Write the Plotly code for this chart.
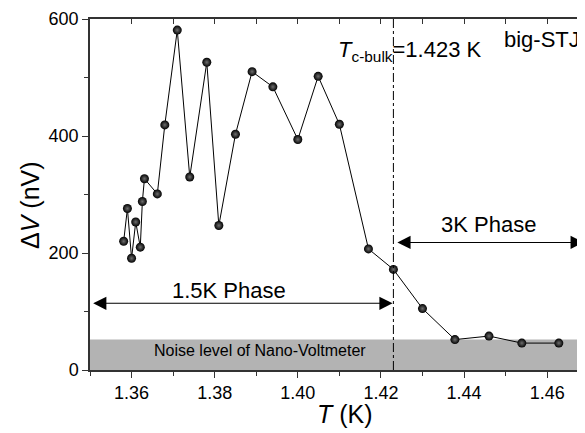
import plotly.graph_objects as go

# Data
T_K = [1.3581, 1.3590, 1.3600, 1.3610, 1.3621, 1.3626, 1.3631, 1.3662, 1.3680,
       1.3710, 1.3740, 1.3781, 1.3810, 1.3850, 1.3890, 1.3940, 1.4000, 1.4049,
       1.4100, 1.4170, 1.4230, 1.4300, 1.4378, 1.4460, 1.4539, 1.4628]
dV_nV = [220, 276, 191, 253, 210, 288, 327, 301, 419,
         581, 330, 526, 247, 403, 510, 484, 394, 502,
         420, 207, 172, 105, 52, 58, 46, 46]

TC_BULK = 1.423
NOISE_LEVEL = 52
X_RANGE = [1.35, 1.4691]
Y_RANGE = [0, 600]
X_TICKS = [1.36, 1.38, 1.40, 1.42, 1.44, 1.46]
X_TICK_LABELS = ["1.36", "1.38", "1.40", "1.42", "1.44", "1.46"]
Y_TICKS = [0, 200, 400, 600]

FONT = "Liberation Sans, Arial, sans-serif"
AX = "#333333"

fig = go.Figure()

fig.add_trace(go.Scatter(
    x=T_K, y=dV_nV, mode="lines+markers",
    line=dict(color="black", width=1),
    marker=dict(size=9, color="black",
                gradient=dict(type="radial", color="#6e6e6e")),
    showlegend=False, hoverinfo="x+y"))

# helper trace for mirrored axes (invisible)
fig.add_trace(go.Scatter(
    x=T_K, y=dV_nV, xaxis="x2", yaxis="y2", mode="markers",
    marker=dict(opacity=0), showlegend=False, hoverinfo="skip"))

# noise band
fig.add_shape(type="rect", xref="paper", yref="y", x0=0, x1=1, y0=0, y1=NOISE_LEVEL,
              fillcolor="#b3b3b3", line=dict(width=0), layer="below")
# Tc line
fig.add_shape(type="line", xref="x", yref="paper", x0=TC_BULK, x1=TC_BULK, y0=0, y1=1,
              line=dict(color="black", width=1, dash="dashdot"))

# arrows
arrow_style = dict(xref="x", yref="y", axref="x", ayref="y", text="",
                   showarrow=True, arrowhead=2, arrowside="end+start",
                   arrowsize=2.4, arrowwidth=1.1, arrowcolor="black")
fig.add_annotation(x=TC_BULK - 0.0002, y=114, ax=X_RANGE[0] + 0.0004, ay=114, **arrow_style)
fig.add_annotation(x=1.4688, y=218, ax=TC_BULK + 0.0006, ay=218, **arrow_style)

txt = dict(family=FONT, size=22, color="black")
fig.add_annotation(x=1.3834, y=136, text="1.5K Phase", showarrow=False, font=txt)
fig.add_annotation(x=1.446, y=248, text="3K Phase", showarrow=False, font=txt)
fig.add_annotation(x=1.391, y=34, text="Noise level of Nano-Voltmeter", showarrow=False,
                   font=dict(family=FONT, size=16, color="black"))
fig.add_annotation(x=1.4092, y=546, xanchor="left", yanchor="middle",
                   text="<i>T</i><sub>c-bulk</sub>=1.423 K", showarrow=False, font=txt)
fig.add_annotation(x=1.4683, y=565, xanchor="right", yanchor="middle",
                   text="big-STJ", showarrow=False, font=txt)

# axis titles
fig.add_annotation(xref="paper", yref="paper", x=(345 - 90) / 495, y=-(414 - 370) / 351,
                   xanchor="center", yanchor="middle",
                   text="<i>T</i> (K)", showarrow=False,
                   font=dict(family=FONT, size=25, color="black"))
fig.add_annotation(xref="paper", yref="paper", x=(30 - 90) / 495, y=(370 - 205) / 351,
                   xanchor="center", yanchor="middle",
                   text="Δ<i>V</i> (nV)", textangle=-90, showarrow=False,
                   font=dict(family=FONT, size=25, color="black"))

# the page body adds an 8 px offset; margins compensate so the plot area sits where the reference has it
fig.update_layout(
    width=585, height=433,
    margin=dict(l=82, r=8, t=11, b=71, autoexpand=False),
    paper_bgcolor="white", plot_bgcolor="white",
    font=dict(family=FONT, size=18, color="black"),
    xaxis=dict(range=X_RANGE, tickvals=X_TICKS, ticktext=X_TICK_LABELS,
               ticks="outside", ticklen=6, tickwidth=1.2, tickcolor=AX,
               showline=True, linecolor=AX, linewidth=1.5, showgrid=False,
               zeroline=False, automargin=False,
               minor=dict(dtick=0.01, tick0=1.35, ticks="outside", ticklen=4,
                          tickcolor=AX, tickwidth=1.2, showgrid=False),
               tickfont=dict(family=FONT, size=18, color="black")),
    yaxis=dict(range=Y_RANGE, tickvals=Y_TICKS, ticks="outside", ticklen=6,
               tickwidth=1.2, tickcolor=AX,
               showline=True, linecolor=AX, linewidth=1.5, showgrid=False,
               zeroline=False, automargin=False,
               minor=dict(dtick=100, tick0=0, ticks="outside", ticklen=4,
                          tickcolor=AX, tickwidth=1.2, showgrid=False),
               tickfont=dict(family=FONT, size=18, color="black")),
    xaxis2=dict(range=X_RANGE, overlaying="x", side="top", dtick=0.01, tick0=1.35,
                ticks="inside", ticklen=5, tickwidth=1.2, tickcolor=AX,
                showticklabels=False, showline=True, linecolor=AX, linewidth=1.5,
                showgrid=False, zeroline=False, automargin=False),
    yaxis2=dict(range=Y_RANGE, overlaying="y", side="right", dtick=100, tick0=0,
                ticks="inside", ticklen=5, tickwidth=1.2, tickcolor=AX,
                showticklabels=False, showline=False, showgrid=False, zeroline=False,
                automargin=False),
)

fig.write_html("out.html")
